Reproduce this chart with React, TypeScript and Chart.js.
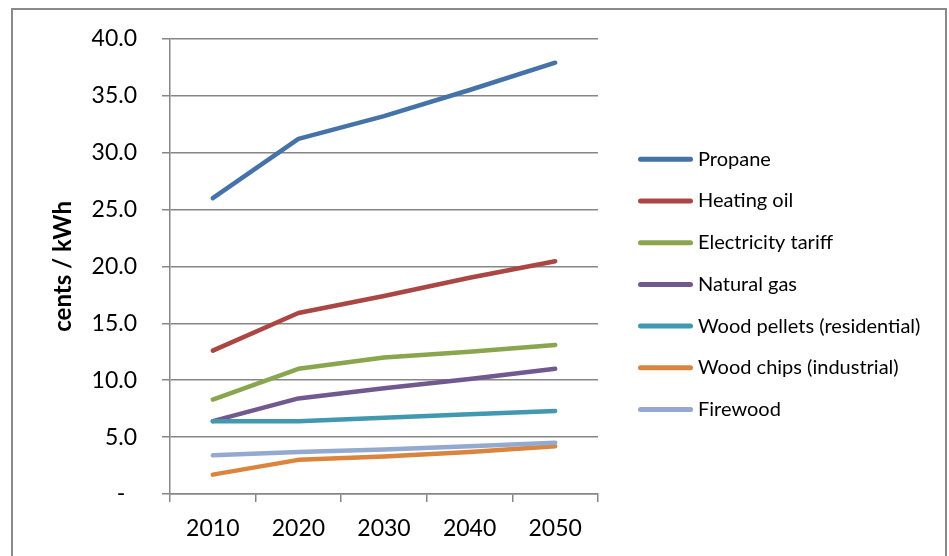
import React, { useEffect, useRef } from "react";
import { Chart, registerables } from "chart.js";

Chart.register(...registerables);

const years = ["2010", "2020", "2030", "2040", "2050"];
const seriesNames = [
  "Propane",
  "Heating oil",
  "Electricity tariff",
  "Natural gas",
  "Wood pellets (residential)",
  "Wood chips (industrial)",
  "Firewood",
];
const propane = [26.0, 31.2, 33.2, 35.5, 37.9];
const heatingOil = [12.6, 15.9, 17.4, 19.0, 20.45];
const electricityTariff = [8.3, 11.0, 12.0, 12.5, 13.1];
const naturalGas = [6.4, 8.4, 9.3, 10.1, 11.0];
const woodPellets = [6.4, 6.4, 6.7, 7.0, 7.3];
const woodChips = [1.7, 3.0, 3.3, 3.7, 4.2];
const firewood = [3.4, 3.7, 3.9, 4.2, 4.5];
const seriesColors = ["#4572A7", "#AA4643", "#89A54E", "#71588F", "#4198AF", "#DB843D", "#93A9CF"];
const yTitle = "cents / kWh";

const FONT = "Lato, 'Open Sans', sans-serif";
const GRID = "#868686";

export default function App() {
  const ref = useRef<HTMLCanvasElement | null>(null);

  useEffect(() => {
    if (!ref.current) return;
    const values = [propane, heatingOil, electricityTariff, naturalGas, woodPellets, woodChips, firewood];

    const framePlugin = {
      id: "frame",
      beforeDraw(chart: any) {
        const ctx = chart.ctx;
        ctx.save();
        ctx.fillStyle = "#ffffff";
        ctx.fillRect(0, 0, chart.width, chart.height);
        ctx.strokeStyle = "#8a8a8a";
        ctx.lineWidth = 2;
        ctx.strokeRect(12, 9, 934, 700);
        ctx.restore();
      },
    };

    const legendPlugin = {
      id: "sideLegend",
      afterDraw(chart: any) {
        const ctx = chart.ctx;
        ctx.save();
        chart.data.datasets.forEach((ds: any, i: number) => {
          const y = 159.3 + i * 41.7;
          ctx.strokeStyle = ds.borderColor;
          ctx.lineWidth = 5;
          ctx.lineCap = "round";
          ctx.beginPath();
          ctx.moveTo(640.5, y);
          ctx.lineTo(690.5, y);
          ctx.stroke();
          ctx.fillStyle = "#000000";
          ctx.font = `20px ${FONT}`;
          ctx.textBaseline = "middle";
          ctx.textAlign = "left";
          ctx.fillText(ds.label, 698, y);
        });
        ctx.restore();
      },
    };

    const chart = new Chart(ref.current, {
      type: "line",
      data: {
        labels: years,
        datasets: seriesNames.map((name, i) => ({
          label: name,
          data: values[i],
          borderColor: seriesColors[i],
          backgroundColor: seriesColors[i],
          borderWidth: 4.5,
          pointRadius: 0,
          pointHoverRadius: 0,
          tension: 0,
          borderCapStyle: "round",
          borderJoinStyle: "round",
          order: seriesNames.length - i,
        })),
      },
      options: {
        responsive: false,
        animation: false,
        devicePixelRatio: 1,
        layout: { padding: { left: 0, top: 38, right: 351, bottom: 0 } },
        plugins: {
          legend: { display: false },
          tooltip: { enabled: false },
        },
        scales: {
          x: {
            type: "category",
            offset: true,
            grid: {
              display: true,
              offset: true,
              drawOnChartArea: false,
              drawTicks: true,
              tickLength: 8,
              color: GRID,
              lineWidth: 1.5,
            },
            border: { display: true, color: GRID, width: 1.5 },
            ticks: {
              font: { family: FONT, size: 23 },
              color: "#000000",
              padding: 13,
              maxRotation: 0,
            },
            afterFit(scale: any) {
              scale.height = 62;
            },
          },
          y: {
            min: 0,
            max: 40,
            grid: {
              color: GRID,
              lineWidth: 1.5,
              drawTicks: true,
              tickLength: 8,
            },
            border: { display: true, color: GRID, width: 1.5 },
            ticks: {
              stepSize: 5,
              font: { family: FONT, size: 23 },
              color: "#000000",
              padding: 25,
              callback: (v: any) => (Number(v) === 0 ? "-  " : Number(v).toFixed(1)),
            },
            title: {
              display: true,
              text: yTitle,
              font: { family: FONT, size: 24, weight: "bold" },
              color: "#000000",
              padding: { top: 49, bottom: 0 },
            },
            afterFit(scale: any) {
              scale.width = 170;
            },
          },
        },
      },
      plugins: [framePlugin, legendPlugin],
    } as any);

    return () => chart.destroy();
  }, []);

  return (
    <div style={{ position: "fixed", left: 0, top: 0, width: 949, height: 556, background: "#fff" }}>
      <canvas ref={ref} width={949} height={556} style={{ width: 949, height: 556, display: "block" }} />
    </div>
  );
}
